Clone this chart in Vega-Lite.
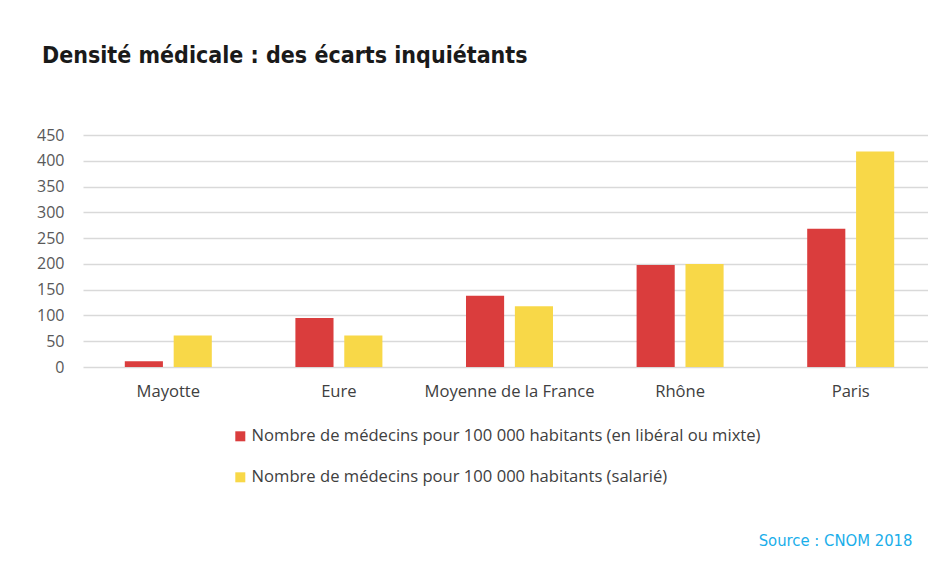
{
  "$schema": "https://vega.github.io/schema/vega-lite/v6.json",
  "width": 829,
  "height": 232,
  "autosize": "none",
  "padding": {"left": 83, "top": 135, "right": 16, "bottom": 197},
  "background": "white",
  "title": {
    "text": "Densité médicale : des écarts inquiétants",
    "anchor": "start",
    "frame": "group",
    "dx": -41,
    "offset": 59,
    "font": "DejaVu Sans Condensed",
    "fontSize": 23,
    "fontWeight": "bold",
    "color": "#1a1a1a"
  },
  "data": {
    "values": [
      {"lieu": "Mayotte", "type": "Nombre de médecins pour 100 000 habitants (en libéral ou mixte)", "valeur": 11},
      {"lieu": "Mayotte", "type": "Nombre de médecins pour 100 000 habitants (salarié)", "valeur": 61},
      {"lieu": "Eure", "type": "Nombre de médecins pour 100 000 habitants (en libéral ou mixte)", "valeur": 95},
      {"lieu": "Eure", "type": "Nombre de médecins pour 100 000 habitants (salarié)", "valeur": 61},
      {"lieu": "Moyenne de la France", "type": "Nombre de médecins pour 100 000 habitants (en libéral ou mixte)", "valeur": 138},
      {"lieu": "Moyenne de la France", "type": "Nombre de médecins pour 100 000 habitants (salarié)", "valeur": 118},
      {"lieu": "Rhône", "type": "Nombre de médecins pour 100 000 habitants (en libéral ou mixte)", "valeur": 198},
      {"lieu": "Rhône", "type": "Nombre de médecins pour 100 000 habitants (salarié)", "valeur": 200},
      {"lieu": "Paris", "type": "Nombre de médecins pour 100 000 habitants (en libéral ou mixte)", "valeur": 268},
      {"lieu": "Paris", "type": "Nombre de médecins pour 100 000 habitants (salarié)", "valeur": 418}
    ]
  },
  "mark": {"type": "bar"},
  "encoding": {
    "x": {
      "field": "lieu",
      "type": "nominal",
      "sort": ["Mayotte", "Eure", "Moyenne de la France", "Rhône", "Paris"],
      "scale": {"range": [0, 853], "paddingInner": 0.49, "paddingOuter": 0.245},
      "axis": {
        "labelAngle": 0,
        "ticks": false,
        "domain": false,
        "labelPadding": 16,
        "labelFont": "Open Sans",
        "labelFontSize": 16.6,
        "labelColor": "#404040",
        "title": "Source : CNOM 2018",
        "titleX": 829,
        "titleY": 165,
        "titleAlign": "right",
        "titleFont": "DejaVu Sans Condensed",
        "titleFontSize": 16.5,
        "titleFontWeight": "normal",
        "titleColor": "#1AAEEA"
      }
    },
    "xOffset": {
      "field": "type",
      "type": "nominal",
      "scale": {"paddingInner": 0.22, "paddingOuter": 0}
    },
    "y": {
      "field": "valeur",
      "type": "quantitative",
      "scale": {"domain": [0, 450], "nice": false},
      "axis": {
        "values": [0, 50, 100, 150, 200, 250, 300, 350, 400, 450],
        "title": null,
        "ticks": false,
        "domain": false,
        "labelPadding": 19,
        "labelFont": "Open Sans",
        "labelFontSize": 16,
        "labelColor": "#595959",
        "gridColor": "#d9d9d9",
        "gridWidth": 1.5
      }
    },
    "color": {
      "field": "type",
      "type": "nominal",
      "scale": {"range": ["#DA3D3D", "#F8D848"]},
      "legend": {
        "title": null,
        "orient": "none",
        "legendX": 149,
        "legendY": 293,
        "direction": "vertical",
        "symbolType": "square",
        "symbolSize": 100,
        "symbolStrokeWidth": 0,
        "labelFont": "Open Sans",
        "labelFontSize": 16.6,
        "labelColor": "#404040",
        "labelOffset": 3,
        "labelLimit": 700,
        "rowPadding": 24
      }
    }
  },
  "config": {
    "view": {"stroke": null}
  }
}
